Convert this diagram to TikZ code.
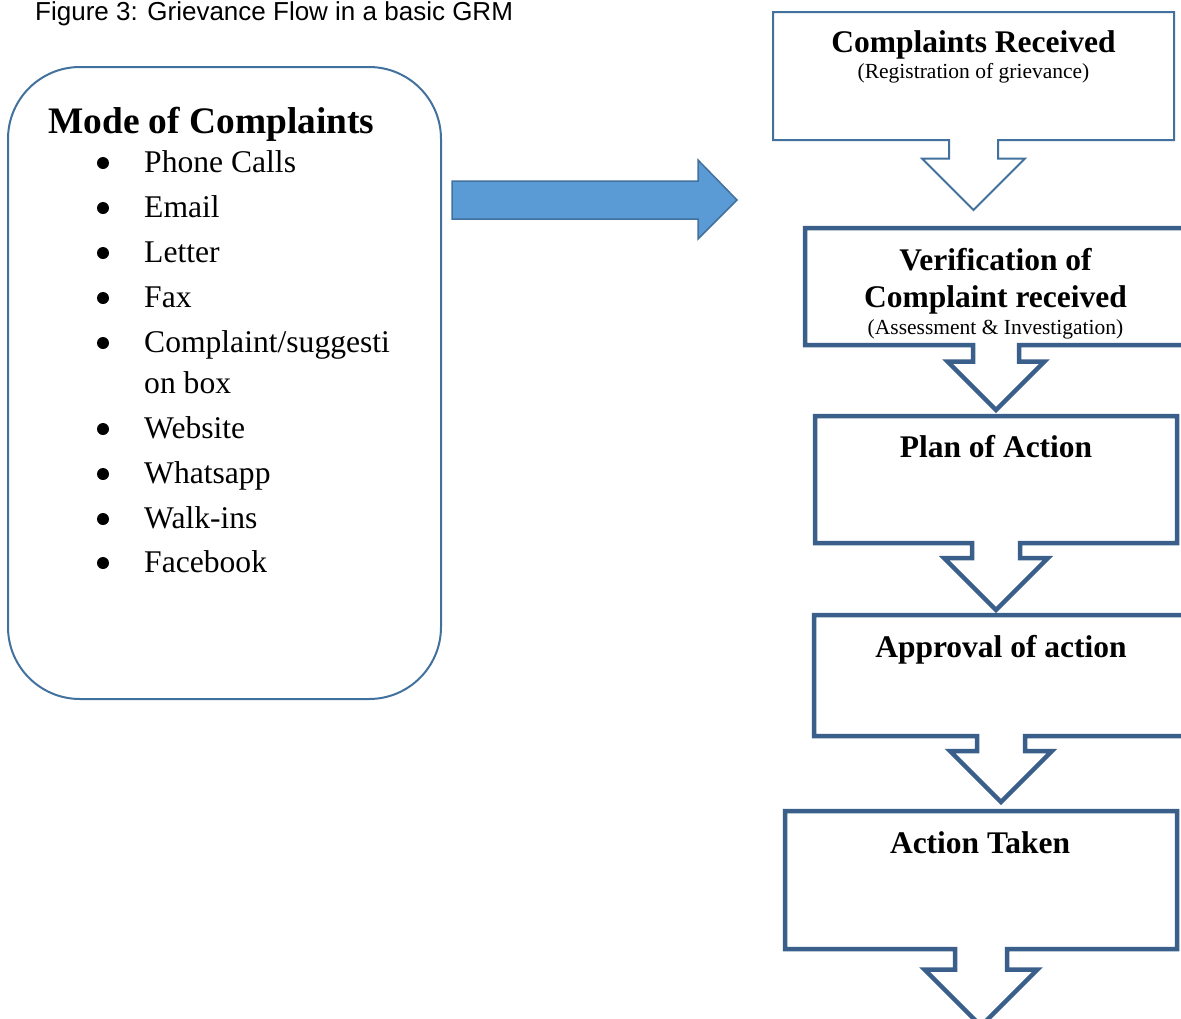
\documentclass[tikz,border=0pt]{standalone}
\usepackage{fontspec}
\setmainfont{Liberation Serif}
\newfontfamily\captionfont{Liberation Sans}
\usetikzlibrary{positioning}
\definecolor{frame}{HTML}{41719C}
\definecolor{stepline}{HTML}{3A5F8B}
\definecolor{arrowfill}{HTML}{5B9BD5}

% box with its down arrow: style, left, right, top, bottom, arrow centre, stem half, head half, tip
\newcommand{\stepoutline}[9]{%
  \draw[#1] (#2,#4) -- (#3,#4) -- (#3,#5) -- (#6+#7,#5) -- (#6+#7,#9-#8)
    -- (#6+#8,#9-#8) -- (#6,#9) -- (#6-#8,#9-#8) -- (#6-#7,#9-#8)
    -- (#6-#7,#5) -- (#2,#5) -- cycle;}

\begin{document}
\begin{tikzpicture}[x=1pt,y=-1pt,
    thinstep/.style={draw=frame,fill=white,line width=2pt,line join=miter},
    thickstep/.style={draw=stepline,fill=white,line width=4.5pt,line join=miter},
    steptitle/.style={anchor=base,inner sep=0pt,font=\bfseries\fontsize{31.5}{37}\selectfont},
    stepsub/.style={anchor=base,inner sep=0pt,font=\fontsize{21.5}{26}\selectfont},
    modebox/.style={draw=frame,line width=2pt,rounded corners=72pt,
                    minimum width=433pt,minimum height=632pt,inner sep=0pt},
    item/.style={anchor=base west,inner sep=0pt,font=\fontsize{31.6}{37}\selectfont}]
  \useasboundingbox (0,0) rectangle (1181,1018);

  \node[anchor=base west,inner sep=0pt,font=\captionfont\fontsize{26}{30}\selectfont]
    (caption) at (35,20) {Figure 3: Grievance Flow in a basic GRM};

  % modes of complaint
  \node[modebox] (modes) at (224.5,383) {};
  \node[anchor=base west,inner sep=0pt,font=\bfseries\fontsize{37.4}{44}\selectfont]
    (modehead) at (48,133) {Mode of Complaints};
  \foreach \y/\t [count=\i] in {172/Phone Calls,217/Email,262/Letter,307/Fax,
      352/{Complaint/suggesti},438/Website,483/Whatsapp,528/Walk-ins,572/Facebook}{
    \fill (103,\y-9) circle (6pt);
    \node[item] (item\i) at (144,\y) {\t};
  }
  \node[item] (onbox) at (144,393) {on box};

  \draw[draw=frame,fill=arrowfill,line width=1.5pt,line join=miter]
    (452,181) -- (698,181) -- (698,160) -- (737,200) -- (698,239) -- (698,219) -- (452,219) -- cycle;

  % grievance steps
  \stepoutline{thinstep}{773}{1174}{12}{140}{973.5}{24.5}{51.5}{210}
  \stepoutline{thickstep}{805}{1195}{228}{345}{996}{23}{48.5}{410}
  \stepoutline{thickstep}{815}{1177}{416}{543}{996}{24}{52}{610}
  \stepoutline{thickstep}{814}{1195}{615}{736}{1001}{24}{51}{802}
  \stepoutline{thickstep}{785}{1177}{811}{949}{981}{26}{56.5}{1026}

  \node[steptitle] (received) at (973.5,52) {Complaints Received};
  \node[stepsub] (receivedsub) at (973.5,78) {(Registration of grievance)};
  \node[steptitle] (verify) at (995.5,270) {Verification of};
  \node[steptitle] (verifytwo) at (995.5,307) {Complaint received};
  \node[stepsub] (verifysub) at (995.5,334) {(Assessment \& Investigation)};
  \node[steptitle] (plan) at (996,457) {Plan of Action};
  \node[steptitle] (approval) at (1001,657) {Approval of action};
  \node[steptitle] (taken) at (980,853) {Action Taken};
\end{tikzpicture}
\end{document}
